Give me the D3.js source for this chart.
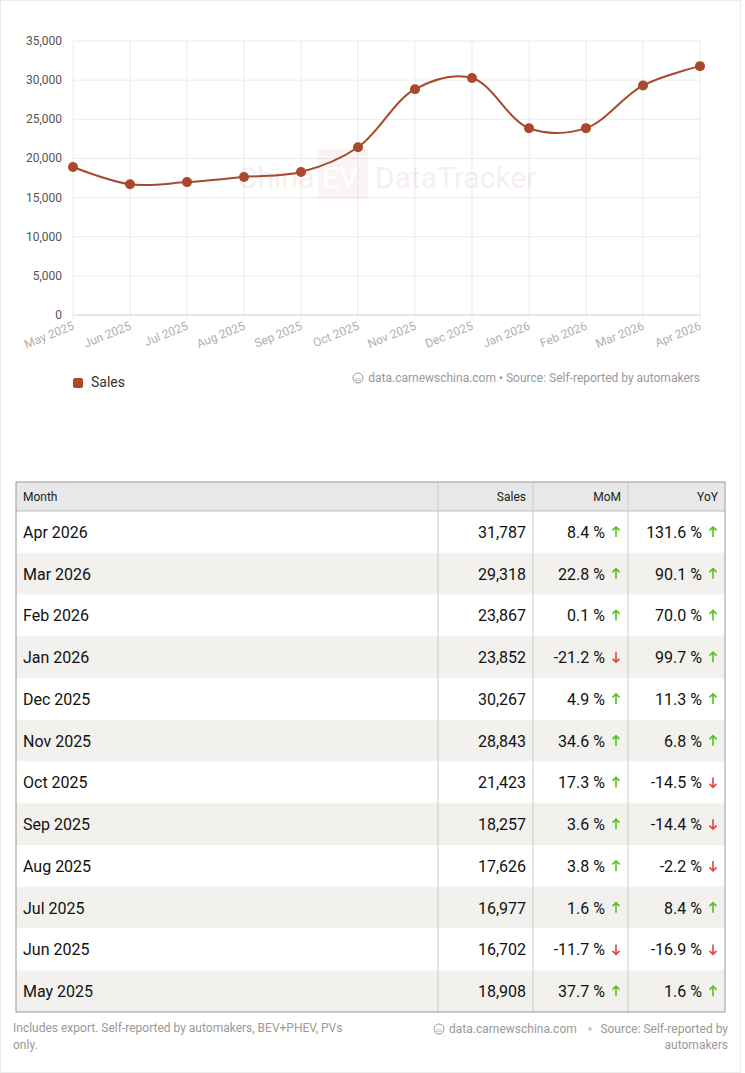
<!DOCTYPE html>
<html><head><meta charset="utf-8">
<script src="https://cdn.jsdelivr.net/npm/d3@7"></script>
<style>
body{margin:0;background:#fff;font-family:Roboto,sans-serif;}
svg{display:block}
</style></head><body>
<svg id="c" width="745" height="1073"></svg>
<script>
const months = ["May 2025","Jun 2025","Jul 2025","Aug 2025","Sep 2025","Oct 2025","Nov 2025","Dec 2025","Jan 2026","Feb 2026","Mar 2026","Apr 2026"];
const sales = [18908,16702,16977,17626,18257,21423,28843,30267,23852,23867,29318,31787];
const mom = [37.7,-11.7,1.6,3.8,3.6,17.3,34.6,4.9,-21.2,0.1,22.8,8.4];
const yoy = [1.6,-16.9,8.4,-2.2,-14.4,-14.5,6.8,11.3,99.7,70.0,90.1,131.6];
const yTicks = [0,5000,10000,15000,20000,25000,30000,35000];
const color = "#a8482c";

const svg = d3.select("#c");
svg.append("rect").attr("x",0.5).attr("y",0.5).attr("width",740).attr("height",1072)
  .attr("fill","none").attr("stroke","#ececec");

// chart
const x = d3.scalePoint().domain(months).range([73,700]);
const y = d3.scaleLinear().domain([0,35000]).range([315,41]);
const g = svg.append("g");
g.selectAll(".hg").data(yTicks).join("line")
  .attr("x1",73).attr("x2",700).attr("y1",d=>y(d)).attr("y2",d=>y(d))
  .attr("stroke",d=>d===0?"#ccc":"#ebebeb");
g.selectAll(".vg").data(months).join("line")
  .attr("x1",d=>x(d)).attr("x2",d=>x(d)).attr("y1",41).attr("y2",320)
  .attr("stroke","#ebebeb");
g.selectAll(".yl").data(yTicks).join("text")
  .attr("x",62).attr("y",d=>y(d)+4).attr("text-anchor","end")
  .attr("font-size",12).attr("fill","#555").text(d3.format(","));
g.selectAll(".xl").data(months).join("text")
  .attr("transform",d=>`translate(${x(d)+2},${329}) rotate(-22)`)
  .attr("text-anchor","end").attr("font-size",12).attr("fill","#b0b0b0").text(d=>d);

// watermark
const wm = g.append("g").attr("opacity",0.08);
wm.append("text").attr("x",238).attr("y",188).attr("font-size",30).attr("fill",color).text("China");
wm.append("rect").attr("x",318).attr("y",149).attr("width",50).attr("height",50).attr("fill",color).attr("opacity",0.6);
wm.append("text").attr("x",322).attr("y",188).attr("font-size",30).attr("fill","#fff").text("EV");
wm.append("text").attr("x",375).attr("y",188).attr("font-size",30).attr("fill",color).text("DataTracker");

const line = d3.line().x((d,i)=>x(months[i])).y(d=>y(d)).curve(d3.curveCatmullRom.alpha(0.5));
g.append("path").attr("d",line(sales)).attr("fill","none").attr("stroke",color).attr("stroke-width",2);
g.selectAll(".pt").data(sales).join("circle")
  .attr("cx",(d,i)=>x(months[i])).attr("cy",d=>y(d)).attr("r",5).attr("fill",color);

// legend + credit
g.append("rect").attr("x",73).attr("y",378).attr("width",10).attr("height",10).attr("rx",2).attr("fill",color);
g.append("text").attr("x",91).attr("y",387).attr("font-size",14).attr("fill","#333").text("Sales");
g.append("circle").attr("cx",358).attr("cy",378).attr("r",5).attr("fill","none").attr("stroke","#999");
g.append("text").attr("x",358).attr("y",380.5).attr("text-anchor","middle").attr("font-size",6).attr("fill","#999").text("cc");
g.append("text").attr("x",700).attr("y",382).attr("text-anchor","end").attr("font-size",12).attr("fill","#999")
  .text("data.carnewschina.com • Source: Self-reported by automakers");

// table
const L=16,R=725,tTop=482,hh=29,rh=41.75;
const cols=[438,533,628];
const rows = months.map((m,i)=>({m,s:sales[i],mo:mom[i],yo:yoy[i]})).reverse();
const t = svg.append("g");
t.append("rect").attr("x",L).attr("y",tTop).attr("width",R-L).attr("height",hh).attr("fill","#e8e8e8");
t.selectAll(".rb").data(rows).join("rect")
  .attr("x",L).attr("y",(d,i)=>tTop+hh+i*rh).attr("width",R-L).attr("height",rh)
  .attr("fill",(d,i)=>i%2?"#f2f1ee":"#fff");
t.append("line").attr("x1",L).attr("x2",R).attr("y1",tTop+hh).attr("y2",tTop+hh).attr("stroke","#bbb");
t.selectAll(".cl").data(cols).join("line").attr("x1",d=>d).attr("x2",d=>d)
  .attr("y1",tTop).attr("y2",tTop+hh+rows.length*rh).attr("stroke","#ccc");
t.append("rect").attr("x",L).attr("y",tTop).attr("width",R-L).attr("height",hh+rows.length*rh)
  .attr("fill","none").attr("stroke","#999");
const hdr=[["Month",L+7,"start"],["Sales",cols[1]-7,"end"],["MoM",cols[2]-7,"end"],["YoY",R-7,"end"]];
t.selectAll(".hd").data(hdr).join("text").attr("x",d=>d[1]).attr("y",tTop+19)
  .attr("text-anchor",d=>d[2]).attr("font-size",12).attr("fill","#222").text(d=>d[0]);
const fmt=d3.format(",");
rows.forEach((r,i)=>{
  const cy=tTop+hh+i*rh+rh/2+6;
  t.append("text").attr("x",L+7).attr("y",cy).attr("font-size",16).attr("fill","#111").text(r.m);
  t.append("text").attr("x",cols[1]-7).attr("y",cy).attr("text-anchor","end").attr("font-size",16).attr("fill","#111").text(fmt(r.s));
  [[r.mo,cols[2]],[r.yo,R]].forEach(([v,xr])=>{
    t.append("text").attr("x",xr-23).attr("y",cy).attr("text-anchor","end").attr("font-size",16).attr("fill","#111").text(v.toFixed(1)+" %");
    const up=v>=0, ax=xr-12, ay=cy-6;
    t.append("path")
      .attr("d",up?`M${ax},${ay-5}V${ay+5}M${ax-3.5},${ay-1.5}L${ax},${ay-5}L${ax+3.5},${ay-1.5}`
                  :`M${ax},${ay-5}V${ay+5}M${ax-3.5},${ay+1.5}L${ax},${ay+5}L${ax+3.5},${ay+1.5}`)
      .attr("fill","none").attr("stroke",up?"#52c41a":"#e0463c").attr("stroke-width",1.6);
  });
});

// footer
const f=svg.append("g").attr("font-size",12).attr("fill","#999");
f.append("text").attr("x",13).attr("y",1032).text("Includes export. Self-reported by automakers, BEV+PHEV, PVs");
f.append("text").attr("x",13).attr("y",1049).text("only.");
f.append("circle").attr("cx",439).attr("cy",1029).attr("r",5).attr("fill","none").attr("stroke","#999");
f.append("text").attr("x",439).attr("y",1031.5).attr("text-anchor","middle").attr("font-size",6).text("cc");
f.append("text").attr("x",449).attr("y",1033).text("data.carnewschina.com");
f.append("circle").attr("cx",590).attr("cy",1029).attr("r",2).attr("fill","#ccd");
f.append("text").attr("x",728).attr("y",1033).attr("text-anchor","end").text("Source: Self-reported by");
f.append("text").attr("x",728).attr("y",1049).attr("text-anchor","end").text("automakers");
</script></body></html>
